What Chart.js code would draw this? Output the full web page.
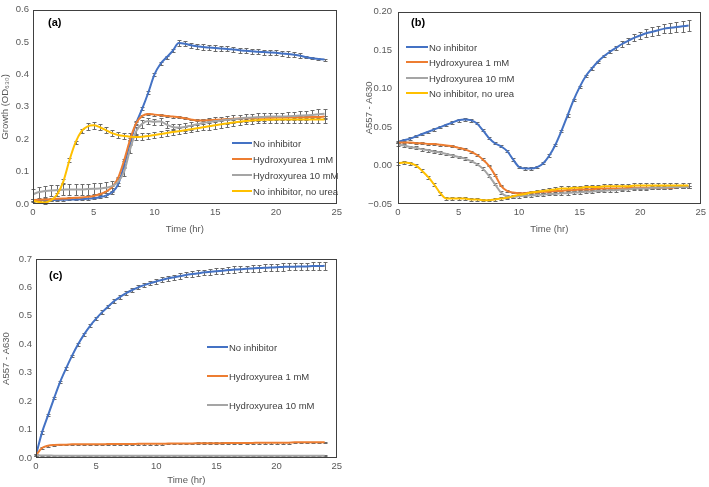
<!DOCTYPE html>
<html>
<head>
<meta charset="utf-8">
<script src="https://cdn.jsdelivr.net/npm/chart.js@4.4.1/dist/chart.umd.min.js"></script>
<style>
  body { margin: 0; background: #fff; width: 709px; height: 487px; overflow: hidden; position: relative;
         font-family: "Liberation Sans", Arial, sans-serif; }
  .box { position: absolute; }
  .lab { position: absolute; font-weight: bold; font-size: 11px; color: #000; line-height: 12px; }
  .leg { position: absolute; font-size: 9.5px; color: #404040; white-space: nowrap; line-height: 12px; }
  .leg span { display: inline-block; height: 2px; vertical-align: middle; margin-right: 1px; position: relative; top: -1px; }
</style>
</head>
<body>
<div class="box" style="left:0;top:0;width:345px;height:236px"><canvas id="chartA"></canvas></div>
<div class="box" style="left:360px;top:0;width:349px;height:236px"><canvas id="chartB"></canvas></div>
<div class="box" style="left:0;top:240px;width:345px;height:247px"><canvas id="chartC"></canvas></div>

<div class="lab" style="left:48px;top:16px">(a)</div>
<div class="lab" style="left:411px;top:16px">(b)</div>
<div class="lab" style="left:49px;top:269px">(c)</div>

<div id="legends"></div>

<script>
// time points (hr)
const hours = [0,0.5,1,1.5,2,2.5,3,3.5,4,4.5,5,5.5,6,6.5,7,7.5,8,8.5,9,9.5,10,10.5,11,11.5,12,
  12.5,13,13.5,14,14.5,15,15.5,16,16.5,17,17.5,18,18.5,19,19.5,20,20.5,21,21.5,22,22.5,23,23.5,24];

const labels = ['No inhibitor', 'Hydroxyurea 1 mM', 'Hydroxyurea 10 mM', 'No inhibitor, no urea'];
const colors = ['#4472C4', '#ED7D31', '#A5A5A5', '#FFC000'];

// panel (a) growth OD630
const aBlue = [0.012,0.012,0.012,0.012,0.013,0.013,0.014,0.014,0.015,0.016,0.018,0.021,0.026,0.036,0.06,0.12,0.19,0.25,0.295,0.345,0.40,0.433,0.453,0.473,0.497,
  0.495,0.49,0.487,0.485,0.483,0.482,0.48,0.479,0.477,0.475,0.473,0.472,0.47,0.469,0.468,0.467,0.465,0.463,0.461,0.458,0.453,0.45,0.448,0.446];
const aOrange = [0.012,0.013,0.014,0.015,0.016,0.017,0.018,0.019,0.02,0.022,0.025,0.03,0.038,0.052,0.08,0.135,0.2,0.25,0.272,0.278,0.276,0.274,0.272,0.27,0.268,
  0.265,0.261,0.258,0.258,0.259,0.26,0.261,0.262,0.263,0.264,0.265,0.265,0.266,0.266,0.266,0.267,0.267,0.267,0.268,0.268,0.268,0.269,0.269,0.27];
const aGrey = [0.03,0.037,0.04,0.042,0.043,0.044,0.045,0.045,0.045,0.046,0.047,0.048,0.05,0.055,0.068,0.1,0.17,0.225,0.248,0.256,0.254,0.255,0.245,0.238,0.236,
  0.238,0.242,0.246,0.25,0.253,0.256,0.258,0.26,0.262,0.264,0.266,0.267,0.268,0.269,0.27,0.27,0.27,0.271,0.272,0.273,0.274,0.275,0.277,0.279];
const aYellow = [0.01,0.006,0.005,0.012,0.03,0.07,0.135,0.19,0.225,0.24,0.243,0.237,0.228,0.219,0.213,0.21,0.208,0.207,0.208,0.21,0.213,0.216,0.219,0.222,0.225,
  0.228,0.231,0.234,0.237,0.24,0.243,0.246,0.249,0.252,0.254,0.256,0.258,0.259,0.26,0.26,0.261,0.261,0.261,0.261,0.261,0.261,0.261,0.261,0.261];
const aBlueErr = [0.003,0.003,0.003,0.003,0.003,0.003,0.003,0.003,0.003,0.003,0.003,0.003,0.003,0.005,0.005,0.005,0.005,0.005,0.005,0.005,0.005,0.005,0.005,0.005,0.008,
  0.008,0.008,0.008,0.008,0.008,0.008,0.008,0.008,0.008,0.008,0.008,0.008,0.008,0.008,0.008,0.008,0.008,0.008,0.008,0.008,0.003,0.003,0.003,0.003];
const aGreyErr = [0.015,0.017,0.017,0.017,0.017,0.017,0.017,0.017,0.017,0.017,0.017,0.017,0.017,0.017,0.012,0.012,0.012,0.012,0.012,0.01,0.01,0.01,0.01,0.01,0.01,
  0.012,0.012,0.012,0.012,0.012,0.012,0.012,0.012,0.012,0.012,0.012,0.012,0.012,0.012,0.012,0.012,0.012,0.013,0.013,0.013,0.014,0.014,0.015,0.015];
const aYellowErr = [0.004,0.004,0.004,0.004,0.004,0.006,0.006,0.006,0.006,0.01,0.01,0.01,0.01,0.01,0.01,0.01,0.01,0.01,0.01,0.01,0.01,0.01,0.01,0.01,0.01,
  0.01,0.01,0.01,0.01,0.01,0.01,0.01,0.01,0.01,0.01,0.01,0.01,0.01,0.01,0.01,0.01,0.01,0.01,0.01,0.01,0.01,0.01,0.01,0.01];

// panel (b) A557 - A630
const bBlue = [0.031,0.033,0.035,0.038,0.041,0.044,0.047,0.05,0.053,0.056,0.059,0.06,0.059,0.055,0.046,0.036,0.029,0.025,0.019,0.008,-0.002,-0.004,-0.004,-0.002,0.003,
  0.013,0.027,0.045,0.065,0.085,0.102,0.116,0.126,0.135,0.142,0.148,0.153,0.158,0.162,0.166,0.169,0.172,0.174,0.176,0.178,0.179,0.18,0.181,0.182];
const bOrange = [0.03,0.03,0.03,0.029,0.029,0.028,0.028,0.027,0.026,0.025,0.023,0.021,0.018,0.014,0.008,0.0,-0.012,-0.026,-0.033,-0.035,-0.036,-0.036,-0.035,-0.035,-0.034,
  -0.034,-0.033,-0.033,-0.032,-0.032,-0.031,-0.031,-0.031,-0.03,-0.03,-0.03,-0.03,-0.03,-0.029,-0.029,-0.029,-0.029,-0.029,-0.029,-0.029,-0.029,-0.028,-0.028,-0.028];
const bGrey = [0.027,0.026,0.024,0.023,0.021,0.02,0.018,0.017,0.015,0.013,0.011,0.009,0.006,0.002,-0.004,-0.013,-0.024,-0.035,-0.04,-0.041,-0.04,-0.039,-0.039,-0.038,-0.038,
  -0.037,-0.037,-0.036,-0.036,-0.035,-0.035,-0.034,-0.034,-0.033,-0.033,-0.032,-0.032,-0.031,-0.031,-0.03,-0.03,-0.03,-0.029,-0.029,-0.029,-0.028,-0.028,-0.028,-0.028];
const bYellow = [0.003,0.004,0.003,0.0,-0.007,-0.015,-0.025,-0.036,-0.043,-0.043,-0.043,-0.043,-0.044,-0.044,-0.045,-0.045,-0.044,-0.043,-0.042,-0.04,-0.038,-0.037,-0.035,-0.034,-0.033,
  -0.032,-0.031,-0.03,-0.03,-0.029,-0.029,-0.028,-0.028,-0.028,-0.027,-0.027,-0.027,-0.027,-0.027,-0.026,-0.026,-0.026,-0.026,-0.026,-0.026,-0.026,-0.026,-0.026,-0.026];
const bBlueErr = [0.0015,0.0015,0.0015,0.0015,0.0015,0.0015,0.0015,0.0015,0.0015,0.0015,0.002,0.002,0.002,0.0015,0.0015,0.0015,0.0015,0.0015,0.0015,0.0015,0.0015,0.0015,0.0015,0.0015,0.0015,
  0.0015,0.0015,0.0015,0.0015,0.0015,0.0015,0.0015,0.0015,0.0015,0.0015,0.002,0.003,0.0035,0.004,0.0045,0.005,0.0055,0.006,0.006,0.006,0.0065,0.007,0.007,0.007];
const bYellowErr = [0.002,0.002,0.002,0.002,0.002,0.002,0.002,0.002,0.0015,0.0015,0.0015,0.0015,0.0015,0.0015,0.0015,0.0015,0.0015,0.0015,0.002,0.002,0.002,0.002,0.002,0.002,0.0025,
  0.0025,0.0025,0.003,0.003,0.003,0.003,0.003,0.003,0.003,0.003,0.003,0.003,0.003,0.003,0.003,0.003,0.003,0.003,0.003,0.003,0.003,0.003,0.003,0.003];

// panel (c) A557 - A630
const cBlue = [0.01,0.09,0.15,0.21,0.267,0.315,0.36,0.4,0.435,0.465,0.49,0.513,0.533,0.552,0.567,0.58,0.591,0.6,0.608,0.615,0.621,0.627,0.632,0.636,0.64,
  0.644,0.647,0.65,0.653,0.655,0.657,0.659,0.661,0.663,0.664,0.666,0.667,0.668,0.669,0.67,0.671,0.672,0.673,0.673,0.674,0.674,0.675,0.675,0.676];
const cOrange = [0.01,0.035,0.043,0.046,0.047,0.047,0.048,0.048,0.048,0.048,0.048,0.048,0.049,0.049,0.049,0.049,0.049,0.05,0.05,0.05,0.05,0.05,0.051,0.051,0.051,
  0.051,0.051,0.052,0.052,0.052,0.052,0.052,0.053,0.053,0.053,0.053,0.053,0.054,0.054,0.054,0.054,0.054,0.054,0.055,0.055,0.055,0.055,0.055,0.055];
const cGrey = [0.01,0.009,0.009,0.008,0.008,0.008,0.008,0.008,0.008,0.008,0.008,0.008,0.008,0.008,0.008,0.008,0.008,0.008,0.008,0.008,0.008,0.008,0.008,0.008,0.008,
  0.008,0.008,0.008,0.008,0.008,0.008,0.008,0.008,0.008,0.008,0.008,0.008,0.008,0.008,0.008,0.008,0.008,0.008,0.008,0.008,0.008,0.008,0.008,0.008];
const cBlueErr = [0.004,0.004,0.004,0.004,0.004,0.004,0.004,0.005,0.005,0.005,0.006,0.006,0.006,0.006,0.007,0.007,0.007,0.007,0.008,0.008,0.008,0.008,0.009,0.009,0.009,
  0.009,0.01,0.01,0.01,0.01,0.01,0.011,0.011,0.011,0.011,0.011,0.012,0.012,0.012,0.012,0.012,0.013,0.013,0.013,0.013,0.013,0.014,0.014,0.014];

const xTicks = [0, 5, 10, 15, 20, 25];
const FONT = '"Liberation Sans", Arial, sans-serif';
const TICK_COLOR = '#595959';

function pts(vals) {
  return vals.map((v, i) => ({ x: hours[i], y: v }));
}

// error bars drawn from the data through the chart scales
const errorBars = {
  id: 'errorBars',
  beforeDatasetsDraw(chart) {
    const ctx = chart.ctx, xs = chart.scales.x, ys = chart.scales.y;
    ctx.save();
    ctx.strokeStyle = '#6a6a6a';
    ctx.lineWidth = 1;
    chart.data.datasets.forEach(ds => {
      if (ds.err == null) return;
      ds.data.forEach((p, i) => {
        const e = Array.isArray(ds.err) ? ds.err[i] : ds.err;
        const x = Math.round(xs.getPixelForValue(p.x)) + 0.5;
        const y1 = Math.round(ys.getPixelForValue(p.y - e)) + 0.5;
        const y2 = Math.round(ys.getPixelForValue(p.y + e)) + 0.5;
        ctx.beginPath();
        ctx.moveTo(x, y1); ctx.lineTo(x, y2);
        ctx.moveTo(x - 2, y1); ctx.lineTo(x + 2, y1);
        ctx.moveTo(x - 2, y2); ctx.lineTo(x + 2, y2);
        ctx.stroke();
      });
    });
    ctx.restore();
  }
};

const plotBorder = {
  id: 'plotBorder',
  afterDraw(chart) {
    const a = chart.chartArea, ctx = chart.ctx;
    ctx.save();
    ctx.strokeStyle = '#404040';
    ctx.lineWidth = 1;
    ctx.strokeRect(Math.round(a.left) + 0.5, Math.round(a.top) + 0.5,
      Math.round(a.right - a.left) - 1, Math.round(a.bottom - a.top) - 1);
    ctx.restore();
  }
};

function makeChart(id, sets, y, d) {
  const datasets = sets.map((s, i) => ({
    label: labels[i],
    data: pts(s.vals),
    err: s.err,
    borderColor: colors[i],
    backgroundColor: colors[i],
    borderWidth: 2,
    pointRadius: 0,
    cubicInterpolationMode: 'monotone',
    order: sets.length - i
  }));
  new Chart(document.getElementById(id), {
    type: 'line',
    data: { datasets },
    plugins: [errorBars, plotBorder],
    options: {
      responsive: true,
      maintainAspectRatio: false,
      animation: false,
      layout: { padding: { top: d.top, right: d.right, left: 0, bottom: 0 } },
      plugins: { legend: { display: false }, tooltip: { enabled: false } },
      scales: {
        x: {
          type: 'linear', min: 0, max: 25,
          afterFit: s => { s.height = d.xh; },
          afterBuildTicks: s => { s.ticks = xTicks.map(v => ({ value: v })); },
          grid: { display: false, drawTicks: false },
          border: { display: false },
          ticks: { color: TICK_COLOR, font: { family: FONT, size: 9.5 }, padding: 3, maxRotation: 0,
                   callback: v => String(v) },
          title: { display: true, text: 'Time (hr)', color: TICK_COLOR,
                   font: { family: FONT, size: 9.5 }, padding: { top: 0, bottom: 1 } }
        },
        y: {
          min: y.min, max: y.max,
          afterFit: s => { s.width = d.yw; },
          afterBuildTicks: s => { s.ticks = y.ticks.map(v => ({ value: v })); },
          grid: { display: false, drawTicks: false },
          border: { display: false },
          ticks: { color: TICK_COLOR, font: { family: FONT, size: 9.5 }, padding: d.ytPad,
                   callback: v => (v < -1e-9 ? '\u2212' : '') + Math.abs(v).toFixed(y.dec) },
          title: { display: true, text: y.title, color: TICK_COLOR,
                   font: { family: FONT, size: 9.5 }, padding: { top: d.titlePad, bottom: 0 } }
        }
      }
    }
  });
}

makeChart('chartA', [
  { vals: aBlue, err: aBlueErr },
  { vals: aOrange, err: 0.003 },
  { vals: aGrey, err: aGreyErr },
  { vals: aYellow, err: aYellowErr }
], { min: 0, max: 0.6, ticks: [0, 0.1, 0.2, 0.3, 0.4, 0.5, 0.6], dec: 1, title: 'Growth (OD\u2086\u2083\u2080)' },
   { top: 4, right: 3, xh: 32, yw: 33, ytPad: 4, titlePad: 0 });

makeChart('chartB', [
  { vals: bBlue, err: bBlueErr },
  { vals: bOrange, err: 0.0012 },
  { vals: bGrey, err: 0.0018 },
  { vals: bYellow, err: bYellowErr }
], { min: -0.05, max: 0.2, ticks: [-0.05, 0, 0.05, 0.1, 0.15, 0.2], dec: 2, title: 'A557 - A630' },
   { top: 4, right: 5, xh: 32, yw: 38, ytPad: 6, titlePad: 4 });

makeChart('chartC', [
  { vals: cBlue, err: cBlueErr },
  { vals: cOrange, err: 0.003 },
  { vals: cGrey, err: 0.002 }
], { min: 0, max: 0.7, ticks: [0, 0.1, 0.2, 0.3, 0.4, 0.5, 0.6, 0.7], dec: 1, title: 'A557 - A630' },
   { top: 19, right: 4, xh: 29, yw: 36, ytPad: 4, titlePad: 1 });

// legends (HTML text)
function legend(x, lineW, rows, count) {
  const host = document.getElementById('legends');
  for (let i = 0; i < count; i++) {
    const el = document.createElement('div');
    el.className = 'leg';
    el.style.left = x + 'px';
    el.style.top = (rows[i] - 6) + 'px';
    el.innerHTML = '<span style="width:' + lineW + 'px;background:' + colors[i] + '"></span>' + labels[i];
    host.appendChild(el);
  }
}
legend(232, 20, [144, 160, 176, 192], 4);
legend(406, 22, [48, 63, 79, 94], 4);
legend(207, 21, [348, 377, 406], 3);
</script>
</body>
</html>
